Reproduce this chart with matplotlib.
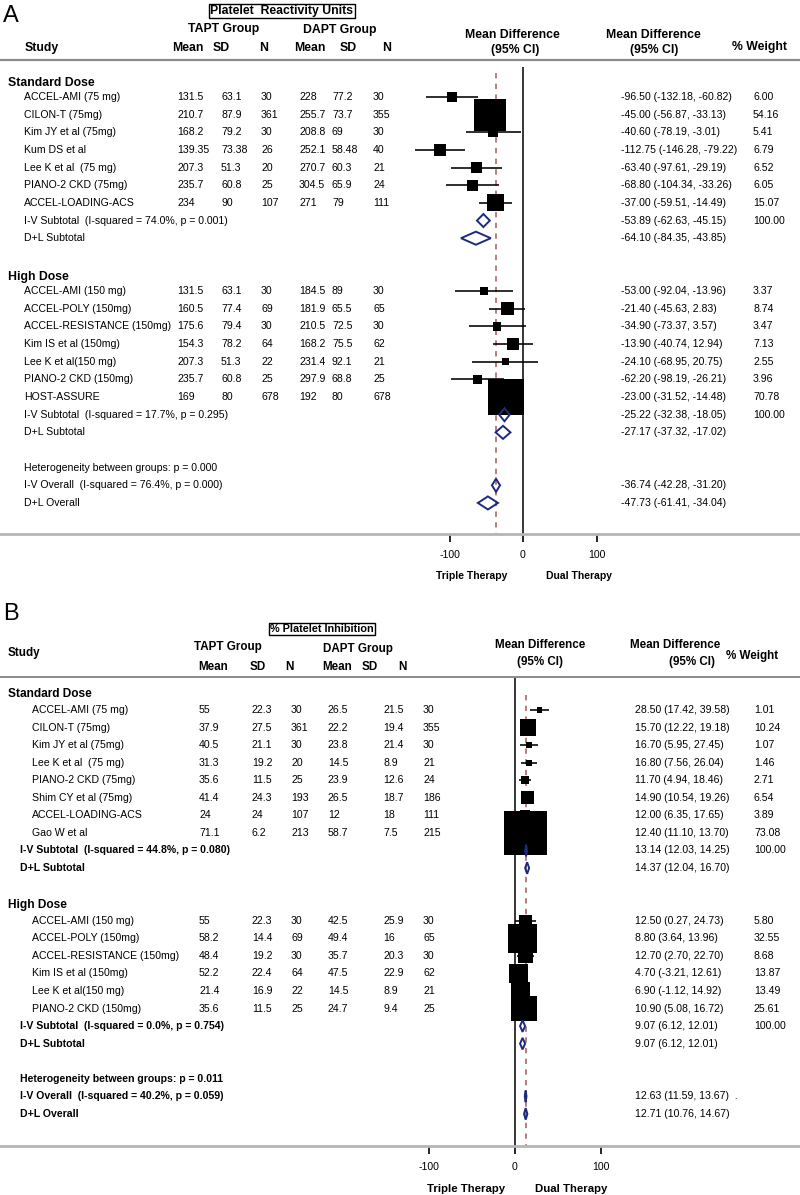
import matplotlib.pyplot as plt
import numpy as np
from matplotlib.lines import Line2D

#### data: panel A, platelet reactivity units ####
a_std_study = ['ACCEL-AMI (75 mg)', 'CILON-T (75mg)', 'Kim JY et al (75mg)', 'Kum DS et al',
               'Lee K et al  (75 mg)', 'PIANO-2 CKD (75mg)', 'ACCEL-LOADING-ACS']
a_std_tmean = [131.5, 210.7, 168.2, 139.35, 207.3, 235.7, 234]
a_std_tsd = [63.1, 87.9, 79.2, 73.38, 51.3, 60.8, 90]
a_std_tn = [30, 361, 30, 26, 20, 25, 107]
a_std_dmean = [228, 255.7, 208.8, 252.1, 270.7, 304.5, 271]
a_std_dsd = [77.2, 73.7, 69, 58.48, 60.3, 65.9, 79]
a_std_dn = [30, 355, 30, 40, 21, 24, 111]
a_std_md = [-96.50, -45.00, -40.60, -112.75, -63.40, -68.80, -37.00]
a_std_lo = [-132.18, -56.87, -78.19, -146.28, -97.61, -104.34, -59.51]
a_std_hi = [-60.82, -33.13, -3.01, -79.22, -29.19, -33.26, -14.49]
a_std_w = [6.00, 54.16, 5.41, 6.79, 6.52, 6.05, 15.07]

a_high_study = ['ACCEL-AMI (150 mg)', 'ACCEL-POLY (150mg)', 'ACCEL-RESISTANCE (150mg)',
                'Kim IS et al (150mg)', 'Lee K et al(150 mg)', 'PIANO-2 CKD (150mg)', 'HOST-ASSURE']
a_high_tmean = [131.5, 160.5, 175.6, 154.3, 207.3, 235.7, 169]
a_high_tsd = [63.1, 77.4, 79.4, 78.2, 51.3, 60.8, 80]
a_high_tn = [30, 69, 30, 64, 22, 25, 678]
a_high_dmean = [184.5, 181.9, 210.5, 168.2, 231.4, 297.9, 192]
a_high_dsd = [89, 65.5, 72.5, 75.5, 92.1, 68.8, 80]
a_high_dn = [30, 65, 30, 62, 21, 25, 678]
a_high_md = [-53.00, -21.40, -34.90, -13.90, -24.10, -62.20, -23.00]
a_high_lo = [-92.04, -45.63, -73.37, -40.74, -68.95, -98.19, -31.52]
a_high_hi = [-13.96, 2.83, 3.57, 12.94, 20.75, -26.21, -14.48]
a_high_w = [3.37, 8.74, 3.47, 7.13, 2.55, 3.96, 70.78]

# pooled: [standard, high]
a_iv_label = ['I-V Subtotal  (I-squared = 74.0%, p = 0.001)', 'I-V Subtotal  (I-squared = 17.7%, p = 0.295)']
a_iv = [(-53.89, -62.63, -45.15), (-25.22, -32.38, -18.05)]
a_dl = [(-64.10, -84.35, -43.85), (-27.17, -37.32, -17.02)]
a_het = 'Heterogeneity between groups: p = 0.000'
a_ov_label = 'I-V Overall  (I-squared = 76.4%, p = 0.000)'
a_ov_iv = (-36.74, -42.28, -31.20)
a_ov_dl = (-47.73, -61.41, -34.04)

#### data: panel B, % platelet inhibition ####
b_std_study = ['ACCEL-AMI (75 mg)', 'CILON-T (75mg)', 'Kim JY et al (75mg)', 'Lee K et al  (75 mg)',
               'PIANO-2 CKD (75mg)', 'Shim CY et al (75mg)', 'ACCEL-LOADING-ACS', 'Gao W et al']
b_std_tmean = [55, 37.9, 40.5, 31.3, 35.6, 41.4, 24, 71.1]
b_std_tsd = [22.3, 27.5, 21.1, 19.2, 11.5, 24.3, 24, 6.2]
b_std_tn = [30, 361, 30, 20, 25, 193, 107, 213]
b_std_dmean = [26.5, 22.2, 23.8, 14.5, 23.9, 26.5, 12, 58.7]
b_std_dsd = [21.5, 19.4, 21.4, 8.9, 12.6, 18.7, 18, 7.5]
b_std_dn = [30, 355, 30, 21, 24, 186, 111, 215]
b_std_md = [28.50, 15.70, 16.70, 16.80, 11.70, 14.90, 12.00, 12.40]
b_std_lo = [17.42, 12.22, 5.95, 7.56, 4.94, 10.54, 6.35, 11.10]
b_std_hi = [39.58, 19.18, 27.45, 26.04, 18.46, 19.26, 17.65, 13.70]
b_std_w = [1.01, 10.24, 1.07, 1.46, 2.71, 6.54, 3.89, 73.08]

b_high_study = ['ACCEL-AMI (150 mg)', 'ACCEL-POLY (150mg)', 'ACCEL-RESISTANCE (150mg)',
                'Kim IS et al (150mg)', 'Lee K et al(150 mg)', 'PIANO-2 CKD (150mg)']
b_high_tmean = [55, 58.2, 48.4, 52.2, 21.4, 35.6]
b_high_tsd = [22.3, 14.4, 19.2, 22.4, 16.9, 11.5]
b_high_tn = [30, 69, 30, 64, 22, 25]
b_high_dmean = [42.5, 49.4, 35.7, 47.5, 14.5, 24.7]
b_high_dsd = [25.9, 16, 20.3, 22.9, 8.9, 9.4]
b_high_dn = [30, 65, 30, 62, 21, 25]
b_high_md = [12.50, 8.80, 12.70, 4.70, 6.90, 10.90]
b_high_lo = [0.27, 3.64, 2.70, -3.21, -1.12, 5.08]
b_high_hi = [24.73, 13.96, 22.70, 12.61, 14.92, 16.72]
b_high_w = [5.80, 32.55, 8.68, 13.87, 13.49, 25.61]

b_iv_label = ['I-V Subtotal  (I-squared = 44.8%, p = 0.080)', 'I-V Subtotal  (I-squared = 0.0%, p = 0.754)']
b_iv = [(13.14, 12.03, 14.25), (9.07, 6.12, 12.01)]
b_dl = [(14.37, 12.04, 16.70), (9.07, 6.12, 12.01)]
b_het = 'Heterogeneity between groups: p = 0.011'
b_ov_label = 'I-V Overall  (I-squared = 40.2%, p = 0.059)'
b_ov_iv = (12.63, 11.59, 13.67)
b_ov_dl = (12.71, 10.76, 14.67)

sections = ['Standard Dose', 'High Dose']

#### figure setup ####
W, H = 800, 1195
plt.rcParams['font.family'] = ['Liberation Sans', 'DejaVu Sans']
plt.rcParams['axes.unicode_minus'] = False
fig = plt.figure(figsize=(W / 100, H / 100), dpi=100)
NAVY = '#1d2a80'
REDD = '#a45a5a'
GRAY = '#9a9a9a'


def fx(px):
    return px / W


def fy(py):
    return 1 - py / H


def hline(py, lw=1.6, color=GRAY):
    fig.add_artist(Line2D([0, 1], [fy(py), fy(py)], color=color, lw=lw))


def ci_text(t):
    return '%.2f (%.2f, %.2f)' % t


def draw_panel(L, groups, iv_lab, iv, dl, het, ov_lab, ov_iv, ov_dl):
    top, bot = L['top'], L['bot']

    def p2r(p):
        return 1 + (p - L['row1']) / L['dy']

    rb, rh = fy(bot), (bot - top) / H
    tab = fig.add_axes([0, rb, 1, rh])
    tab.set_xlim(0, W)
    tab.set_ylim(p2r(bot), p2r(top))
    tab.axis('off')
    x0 = L['zero'] + L['xmin'] * L['k']
    x1 = L['zero'] + L['xmax'] * L['k']
    fa = fig.add_axes([fx(x0), rb, fx(x1) - fx(x0), rh])
    fa.set_xlim(L['xmin'], L['xmax'])
    fa.set_ylim(p2r(bot), p2r(top))
    fa.patch.set_visible(False)
    for s in fa.spines.values():
        s.set_visible(False)
    fa.set_yticks([])
    fa.set_xticks([-100, 0, 100])
    fa.tick_params(axis='x', direction='out', length=6, width=1.2, pad=L['tpad'],
                   labelsize=7.6, color='k')

    fs = 7.6
    bw = L['sub_bold']
    sfs = L['sub_fs']
    r = 0
    est, lo, hi, w, rows = [], [], [], [], []
    dia = []
    for g, grp in enumerate(groups):
        names, tm, tsd, tn, dm, dsd, dn, md, l, h, ww = grp
        tab.text(8, r + L['sec_off'], sections[g], fontsize=L['sec_fs'], fontweight='bold', va='center')
        for i in range(len(names)):
            r += 1
            tab.text(L['name_x'], r, names[i], fontsize=fs, va='center')
            vals = [tm[i], tsd[i], tn[i], dm[i], dsd[i], dn[i]]
            for cx, v in zip(L['cols'], vals):
                tab.text(cx, r, '%g' % v, fontsize=fs, va='center')
            tab.text(L['ci_x'], r, ci_text((md[i], l[i], h[i])), fontsize=fs, va='center')
            tab.text(L['w_x'], r, '%.2f' % ww[i], fontsize=fs, va='center')
            est.append(md[i]); lo.append(l[i]); hi.append(h[i]); w.append(ww[i]); rows.append(r)
        r += 1
        tab.text(L['sub_x'], r, iv_lab[g], fontsize=sfs, fontweight=bw, va='center')
        tab.text(L['ci_x'], r, ci_text(iv[g]), fontsize=fs, va='center')
        tab.text(L['w_x'], r, '100.00', fontsize=fs, va='center')
        dia.append((r, iv[g]))
        r += 1
        tab.text(L['sub_x'], r, 'D+L Subtotal', fontsize=sfs, fontweight=bw, va='center')
        tab.text(L['ci_x'], r, ci_text(dl[g]), fontsize=fs, va='center')
        dia.append((r, dl[g]))
        r += 2
    tab.text(L['sub_x'], r, het, fontsize=sfs, fontweight=bw, va='center')
    r += 1
    tab.text(L['sub_x'], r, ov_lab, fontsize=sfs, fontweight=bw, va='center')
    tab.text(L['ci_x'], r, ci_text(ov_iv) + L['ov_suffix'], fontsize=fs, va='center')
    dia.append((r, ov_iv))
    r += 1
    tab.text(L['sub_x'], r, 'D+L Overall', fontsize=sfs, fontweight=bw, va='center')
    tab.text(L['ci_x'], r, ci_text(ov_dl), fontsize=fs, va='center')
    dia.append((r, ov_dl))

    # reference lines
    fa.vlines(0, p2r(L['zline_top']), p2r(bot), color='k', lw=1.1, zorder=1)
    fa.vlines(ov_iv[0], p2r(L['rline_top']), p2r(bot), color=REDD, lw=1.1,
              linestyles=(0, (3.5, 3.5)), zorder=1)

    # study estimates
    rows = np.array(rows)
    fa.hlines(rows, lo, hi, color='k', lw=1.15, zorder=2, clip_on=False)
    side = L['sq'] * np.sqrt(np.array(w)) * 0.72
    fa.scatter(est, rows, marker='s', s=side ** 2, color='k', linewidths=0, zorder=3, clip_on=False)

    # pooled diamonds
    dh = L['dh']
    for rr, (e, l, h) in dia:
        fa.fill([l, e, h, e, l], [rr, rr - dh, rr, rr + dh, rr], facecolor='none',
                edgecolor=NAVY, lw=1.4, zorder=4, clip_on=False)

    hline(bot, lw=2.0, color='#b5b5b5')


#### panel A ####
LA = dict(top=60, bot=534, row1=97, dy=17.65, zero=523, k=0.735, xmin=-170, xmax=115,
          cols=[177, 221, 261, 299, 332, 373], name_x=24, sub_x=24, sub_bold='normal', sub_fs=7.6,
          sec_fs=8.8, sec_off=0.2, ci_x=621, w_x=753, sq=4.35, dh=0.37, tpad=5.5,
          zline_top=67, rline_top=73, ov_suffix='')
groups_a = [
    (a_std_study, a_std_tmean, a_std_tsd, a_std_tn, a_std_dmean, a_std_dsd, a_std_dn,
     a_std_md, a_std_lo, a_std_hi, a_std_w),
    (a_high_study, a_high_tmean, a_high_tsd, a_high_tn, a_high_dmean, a_high_dsd, a_high_dn,
     a_high_md, a_high_lo, a_high_hi, a_high_w),
]
draw_panel(LA, groups_a, a_iv_label, a_iv, a_dl, a_het, a_ov_label, a_ov_iv, a_ov_dl)

hb = 8.8
fig.text(fx(3), fy(16), 'A', fontsize=17, va='center')
fig.text(fx(282), fy(11), 'Platelet  Reactivity Units', fontsize=hb, fontweight='bold', ha='center', va='center',
         bbox=dict(boxstyle='square,pad=0.12', fc='white', ec='black', lw=1.0))
fig.text(fx(224), fy(29), 'TAPT Group', fontsize=hb, fontweight='bold', ha='center', va='center')
fig.text(fx(340), fy(30), 'DAPT Group', fontsize=hb, fontweight='bold', ha='center', va='center')
fig.text(fx(25), fy(48), 'Study', fontsize=hb, fontweight='bold', va='center')
for cx, t in zip([172, 213, 259, 294, 340, 382], ['Mean', 'SD', 'N', 'Mean', 'SD', 'N']):
    fig.text(fx(cx), fy(48), t, fontsize=hb, fontweight='bold', va='center')
fig.text(fx(512), fy(35), 'Mean Difference', fontsize=hb, fontweight='bold', ha='center', va='center')
fig.text(fx(515), fy(50), '(95% CI)', fontsize=hb, fontweight='bold', ha='center', va='center')
fig.text(fx(653), fy(35), 'Mean Difference', fontsize=hb, fontweight='bold', ha='center', va='center')
fig.text(fx(654), fy(50), '(95% CI)', fontsize=hb, fontweight='bold', ha='center', va='center')
fig.text(fx(760), fy(47), '% Weight', fontsize=hb, fontweight='bold', ha='center', va='center')
hline(60, lw=1.6, color='#8a8a8a')
fig.text(fx(472), fy(576), 'Triple Therapy', fontsize=7.5, fontweight='bold', ha='center', va='center')
fig.text(fx(579), fy(576), 'Dual Therapy', fontsize=7.5, fontweight='bold', ha='center', va='center')

#### panel B ####
LB = dict(top=677, bot=1146, row1=710, dy=17.56, zero=537, k=1.06, xmin=-110, xmax=60,
          cols=[199, 252, 291, 328, 383, 423], name_x=32, sub_x=20, sub_bold='bold', sub_fs=7.6,
          sec_fs=8.6, sec_off=0.1, ci_x=635, w_x=754, sq=5.1, dh=0.33, tpad=5.8,
          zline_top=677, rline_top=695, ov_suffix='  .')
groups_b = [
    (b_std_study, b_std_tmean, b_std_tsd, b_std_tn, b_std_dmean, b_std_dsd, b_std_dn,
     b_std_md, b_std_lo, b_std_hi, b_std_w),
    (b_high_study, b_high_tmean, b_high_tsd, b_high_tn, b_high_dmean, b_high_dsd, b_high_dn,
     b_high_md, b_high_lo, b_high_hi, b_high_w),
]
draw_panel(LB, groups_b, b_iv_label, b_iv, b_dl, b_het, b_ov_label, b_ov_iv, b_ov_dl)

hb2 = 8.4
fig.text(fx(3), fy(614), 'B', fontsize=17, va='center')
fig.text(fx(322), fy(629), '% Platelet Inhibition', fontsize=7.8, fontweight='bold', ha='center', va='center',
         bbox=dict(boxstyle='square,pad=0.12', fc='white', ec='black', lw=1.0))
fig.text(fx(228), fy(647), 'TAPT Group', fontsize=hb2, fontweight='bold', ha='center', va='center')
fig.text(fx(358), fy(649), 'DAPT Group', fontsize=hb2, fontweight='bold', ha='center', va='center')
fig.text(fx(8), fy(653), 'Study', fontsize=hb2, fontweight='bold', va='center')
for cx, t in zip([198, 250, 285, 322, 362, 398], ['Mean', 'SD', 'N', 'Mean', 'SD', 'N']):
    fig.text(fx(cx), fy(667), t, fontsize=hb2, fontweight='bold', va='center')
fig.text(fx(540), fy(645), 'Mean Difference', fontsize=hb2, fontweight='bold', ha='center', va='center')
fig.text(fx(540), fy(662), '(95% CI)', fontsize=hb2, fontweight='bold', ha='center', va='center')
fig.text(fx(675), fy(645), 'Mean Difference', fontsize=hb2, fontweight='bold', ha='center', va='center')
fig.text(fx(692), fy(662), '(95% CI)', fontsize=hb2, fontweight='bold', ha='center', va='center')
fig.text(fx(752), fy(656), '% Weight', fontsize=hb2, fontweight='bold', ha='center', va='center')
hline(677, lw=1.4, color='#8a8a8a')
fig.text(fx(466), fy(1189), 'Triple Therapy', fontsize=8.2, fontweight='bold', ha='center', va='center')
fig.text(fx(571), fy(1189), 'Dual Therapy', fontsize=8.2, fontweight='bold', ha='center', va='center')

fig.savefig('out.png', dpi=100, facecolor='white')
